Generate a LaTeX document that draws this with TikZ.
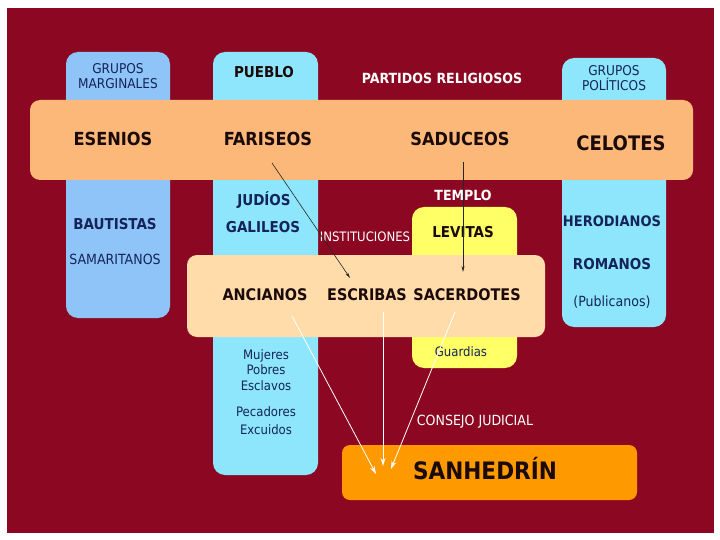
\documentclass[tikz,border=0pt]{standalone}
\usepackage{fontspec}
\setmainfont{DejaVu Sans Condensed}
\usetikzlibrary{arrows.meta}
\definecolor{bgred}{RGB}{140,8,34}
\definecolor{bandorange}{RGB}{252,184,120}
\definecolor{margblue}{RGB}{143,196,248}
\definecolor{cyanbox}{RGB}{142,230,252}
\definecolor{templeyellow}{RGB}{255,255,102}
\definecolor{peach}{RGB}{255,220,170}
\definecolor{sanorange}{RGB}{255,153,0}
\definecolor{navytext}{RGB}{20,36,90}
\definecolor{darktext}{RGB}{26,10,10}
\tikzset{
  col/.style={rounded corners=12pt},
  navyreg/.style={text=navytext,font=\fontsize{14}{15}\selectfont,align=center,inner sep=0pt},
  navybold/.style={text=navytext,font=\bfseries\fontsize{15}{17}\selectfont,inner sep=0pt},
  mainbold/.style={text=darktext,font=\bfseries\fontsize{18}{20}\selectfont,inner sep=0pt},
  whitelbl/.style={text=white,font=\fontsize{14}{16}\selectfont,inner sep=0pt},
  blackarrow/.style={draw=black!85,line width=0.6pt,-{Stealth[length=6pt,width=3pt]}},
  whitearrow/.style={draw=white,line width=0.8pt,-{Stealth[length=8pt,width=5pt]}}
}
\begin{document}
\begin{tikzpicture}[x=1pt,y=-1pt]
\useasboundingbox (0,0) rectangle (720,540);
\fill[white] (0,0) rectangle (720,540);
\fill[bgred] (7,8) rectangle (714,533);
% columns
\fill[margblue,col] (66,52) rectangle (170,318);
\fill[cyanbox,col] (213,52) rectangle (318,475);
\fill[cyanbox,col] (562,58) rectangle (666,327);
\fill[templeyellow,col] (412,207) rectangle (517,368);
% main band
\fill[bandorange,rounded corners=10pt] (30,100) rectangle (693,180);
% institutions band
\fill[peach,rounded corners=10pt] (187,255) rectangle (545,337);
% sanhedrin
\fill[sanorange,rounded corners=8pt] (342,445) rectangle (637,500);
% texts
\node[navyreg,font=\fontsize{13.5}{15}\selectfont] (grpm) at (118,76) {GRUPOS\\MARGINALES};
\node[navybold,text=darktext] (pueblo) at (264,72) {PUEBLO};
\node[whitelbl,font=\bfseries\fontsize{14}{16}\selectfont] (partidos) at (442,78) {PARTIDOS RELIGIOSOS};
\node[navyreg,font=\fontsize{13.5}{15}\selectfont] (grpp) at (614,78) {GRUPOS\\POLÍTICOS};
\node[mainbold] (esenios) at (113,139) {ESENIOS};
\node[mainbold] (fariseos) at (268,139) {FARISEOS};
\node[mainbold] (saduceos) at (460,139) {SADUCEOS};
\node[mainbold,font=\bfseries\fontsize{20}{22}\selectfont] (celotes) at (621,143) {CELOTES};
\node[navybold] (judios) at (264,200) {JUDÍOS};
\node[navybold] (galileos) at (263,227) {GALILEOS};
\node[navybold] (bautistas) at (115,224) {BAUTISTAS};
\node[navyreg] (samaritanos) at (115,259) {SAMARITANOS};
\node[whitelbl,font=\bfseries\fontsize{14}{16}\selectfont] (templo) at (463,195) {TEMPLO};
\node[whitelbl,font=\fontsize{13}{15}\selectfont] (instituciones) at (365,237) {INSTITUCIONES};
\node[mainbold,font=\bfseries\fontsize{15}{17}\selectfont] (levitas) at (463,232) {LEVITAS};
\node[navybold,font=\bfseries\fontsize{14.5}{17}\selectfont] (herodianos) at (612,221) {HERODIANOS};
\node[navybold] (romanos) at (612,264) {ROMANOS};
\node[navyreg] (publicanos) at (612,302) {(Publicanos)};
\node[mainbold,font=\bfseries\fontsize{16}{19}\selectfont] (ancianos) at (265,295) {ANCIANOS};
\node[mainbold,font=\bfseries\fontsize{16}{19}\selectfont] (escribas) at (367,295) {ESCRIBAS};
\node[mainbold,font=\bfseries\fontsize{16}{19}\selectfont] (sacerdotes) at (467,295) {SACERDOTES};
\node[navyreg,font=\fontsize{13}{15}\selectfont] (guardias) at (461,352) {Guardias};
\node[navyreg,font=\fontsize{13}{15.5}\selectfont] (mujeres) at (266,370) {Mujeres\\Pobres\\Esclavos};
\node[navyreg,font=\fontsize{13}{18}\selectfont] (pecadores) at (266,421) {Pecadores\\Excuidos};
\node[whitelbl] (consejo) at (475,422) {CONSEJO JUDICIAL};
\node[mainbold,font=\bfseries\fontsize{24}{28}\selectfont] (sanhedrin) at (485,469) {SANHEDRÍN};
% arrow end points
\coordinate (farStart) at (272,163);
\coordinate (escEnd) at (350,278);
\coordinate (sadStart) at (463,162);
\coordinate (sacEnd) at (463,272);
\coordinate (ancStart) at (292,316);
\coordinate (escStart) at (383,312);
\coordinate (sacStart) at (455,312);
\coordinate (sanA) at (376,474);
\coordinate (sanB) at (383,466);
\coordinate (sanC) at (391,469);
\draw[blackarrow] (farStart) -- (escEnd);
\draw[blackarrow] (sadStart) -- (sacEnd);
\draw[whitearrow] (ancStart) -- (sanA);
\draw[whitearrow] (escStart) -- (sanB);
\draw[whitearrow] (sacStart) -- (sanC);
\end{tikzpicture}
\end{document}
